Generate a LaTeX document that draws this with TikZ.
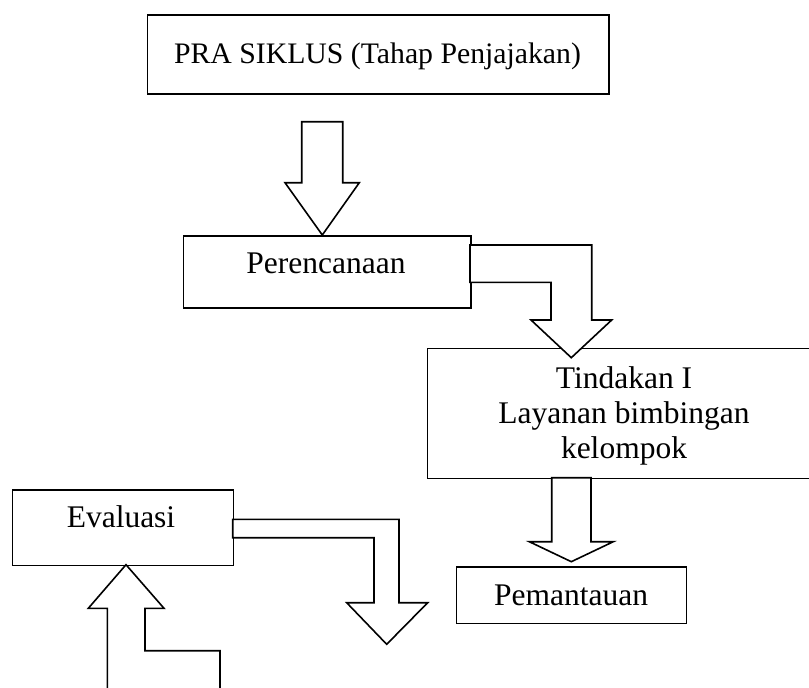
\documentclass[tikz,border=0pt]{standalone}
\usepackage{fontspec}
\setmainfont{Liberation Serif}
\begin{document}
\begin{tikzpicture}[x=1pt,y=-1pt,
  boxst/.style={draw,line width=1.6pt,inner sep=0pt,anchor=north west},
  txt/.style={anchor=base,inner sep=0pt,font=\fontsize{31.5}{35}\selectfont},
  blockarrow/.style={draw,line width=1.6pt,line join=miter,fill=white}]
\useasboundingbox (0,0) rectangle (809,688);
\clip (0,0) rectangle (809,688);
% boxes
\node[boxst,minimum width=461.6pt,minimum height=79pt] (pra) at (146.7,14.3) {};
\node[boxst,minimum width=287.3pt,minimum height=72.3pt] (ren) at (182.7,235) {};
\node[boxst,minimum width=394.3pt,minimum height=130pt] (tin) at (426.7,347.7) {};
\node[boxst,minimum width=221pt,minimum height=75.7pt] (eva) at (11.7,489) {};
\node[boxst,minimum width=230pt,minimum height=56.7pt] (pem) at (455.7,566) {};
% texts
\node[txt,font=\fontsize{29.75}{33}\selectfont] (tpra) at (377.5,63.3) {PRA SIKLUS (Tahap Penjajakan)};
\node[txt] (tren) at (326,273.3) {Perencanaan};
\node[txt] (tin1) at (624,388.3) {Tindakan I};
\node[txt] (tin2) at (624,423.3) {Layanan bimbingan};
\node[txt] (tin3) at (624,458.3) {kelompok};
\node[txt] (teva) at (121,527.3) {Evaluasi};
\node[txt] (tpem) at (571,605) {Pemantauan};
% block arrows
\draw[blockarrow] (301.7,121.7) -- (342.7,121.7) -- (342.7,182.7) -- (359.3,182.7)
  -- (322.3,235) -- (285,182.7) -- (301.7,182.7) -- cycle;
\draw[blockarrow] (470,245) -- (591.7,245) -- (591.7,320) -- (611.7,320)
  -- (571.3,357.7) -- (531,320) -- (551,320) -- (551,282.3) -- (470,282.3) -- cycle;
\draw[blockarrow] (551.7,477.7) -- (591,477.7) -- (591,541.7) -- (613.3,541.7)
  -- (571.3,561.7) -- (529.3,541.7) -- (551.7,541.7) -- cycle;
\draw[blockarrow] (232.7,519.3) -- (399,519.3) -- (399,602.7) -- (427.7,602.7)
  -- (386.7,644.3) -- (346.7,602.7) -- (374,602.7) -- (374,537.7) -- (232.7,537.7) -- cycle;
\draw[blockarrow] (126,564.7) -- (164,608.3) -- (145,608.3) -- (145,650.7) -- (220,650.7)
  -- (220,700) -- (107.3,700) -- (107.3,608.3) -- (88.3,608.3) -- cycle;
\end{tikzpicture}
\end{document}
